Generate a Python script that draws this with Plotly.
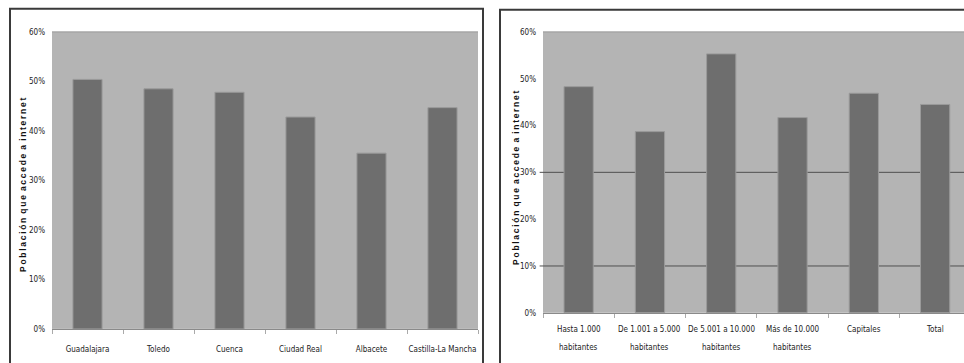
import plotly.graph_objects as go

# Data
provincias = ["Guadalajara", "Toledo", "Cuenca", "Ciudad Real", "Albacete", "Castilla-La Mancha"]
acceso_provincia = [0.504, 0.485, 0.478, 0.428, 0.355, 0.447]

tamanos_linea1 = ["Hasta 1.000", "De 1.001 a 5.000", "De 5.001 a 10.000", "Más de 10.000", "Capitales", "Total"]
tamanos_linea2 = ["habitantes", "habitantes", "habitantes", "habitantes", "", ""]
tamanos = [(a + " " + b).strip() for a, b in zip(tamanos_linea1, tamanos_linea2)]
acceso_tamano = [0.483, 0.387, 0.553, 0.417, 0.469, 0.445]

y_ticks = [0, 0.1, 0.2, 0.3, 0.4, 0.5, 0.6]
y_ticktext = ["0%", "10%", "20%", "30%", "40%", "50%", "60%"]
grid_right = [0.1, 0.3]

TS = "\u2009"
ytitle = (" " + TS).join(TS.join(w) for w in "Población que accede a internet".split(" "))

W, H = 964, 363
def px(x): return x / W
def py(y):
    y = (y - 5.3) / 0.9686
    return 1 - y / H

BG = "#b4b4b4"
BAR = "#6e6e6e"
FONT = "Liberation Sans Narrow, DejaVu Sans Condensed, sans-serif"
TXT = "#222"

fig = go.Figure()
fig.add_trace(go.Bar(x=provincias, y=acceso_provincia, xaxis="x", yaxis="y",
                     marker=dict(color=BAR, line=dict(color="#9a9a9a", width=1)), width=0.41))
fig.add_trace(go.Bar(x=tamanos, y=acceso_tamano, xaxis="x2", yaxis="y2",
                     marker=dict(color=BAR, line=dict(color="#9a9a9a", width=1)), width=0.41))

axis_common_y = dict(range=[0, 0.6], tickvals=y_ticks, ticktext=y_ticktext, showgrid=False,
                     zeroline=False, showline=False, ticks="", ticklabelstandoff=6,
                     tickfont=dict(family=FONT, size=8, color=TXT))
axis_common_x = dict(type="category", showgrid=False, zeroline=False, showline=True,
                     linecolor="#8a8a8a", linewidth=1, ticks="outside", ticklen=4,
                     tickcolor="#aaaaaa", tickson="boundaries", tickangle=0,
                     tickfont=dict(family=FONT, size=8, color=TXT))

fig.update_layout(
    width=W, height=H, margin=dict(l=0, r=0, t=0, b=0), autosize=False,
    paper_bgcolor="white", plot_bgcolor=BG, showlegend=False,
    xaxis=dict(domain=[px(52), px(478)], anchor="y", range=[-0.5, 5.5], ticklabelstandoff=12,
               **axis_common_x),
    yaxis=dict(domain=[py(328), py(33)], anchor="x", **axis_common_y),
    xaxis2=dict(domain=[px(543), 1.0], anchor="y2", range=[-0.5, 5.405], showticklabels=False,
                **axis_common_x),
    yaxis2=dict(domain=[py(312), py(33)], anchor="x2", **axis_common_y),
)

# two-line category labels of the right chart
for cat, l1, l2 in zip(tamanos, tamanos_linea1, tamanos_linea2):
    fig.add_annotation(x=cat, y=py(329), xref="x2", yref="paper", text=l1, showarrow=False,
                       font=dict(family=FONT, size=8, color=TXT), yanchor="middle")
    if l2:
        fig.add_annotation(x=cat, y=py(346), xref="x2", yref="paper", text=l2, showarrow=False,
                           font=dict(family=FONT, size=8, color=TXT), yanchor="middle")

shapes = []
for v in grid_right:
    shapes.append(dict(type="line", xref="x2 domain", yref="y2", x0=-0.008, x1=1, y0=v, y1=v,
                       line=dict(color="#505050", width=1), layer="below"))
# outer frames
shapes.append(dict(type="rect", xref="paper", yref="paper", x0=px(10), x1=px(483), y0=-0.1, y1=py(10),
                   line=dict(color="#3a3a3a", width=2), layer="below"))
shapes.append(dict(type="rect", xref="paper", yref="paper", x0=px(500), x1=1.1, y0=-0.1, y1=py(11),
                   line=dict(color="#3a3a3a", width=2), layer="below"))
# top borders of plot areas
shapes.append(dict(type="line", xref="x domain", yref="y domain", x0=0, x1=1, y0=1, y1=1,
                   line=dict(color="#999999", width=1)))
shapes.append(dict(type="line", xref="x2 domain", yref="y2 domain", x0=0, x1=1, y0=1, y1=1,
                   line=dict(color="#999999", width=1)))
fig.update_layout(shapes=shapes)

title_font = dict(family="Liberation Sans, Arial, sans-serif", size=8.5, color="#111", weight="bold")
fig.add_annotation(text=ytitle, xref="paper", yref="paper", x=px(23), y=py(185), textangle=-90,
                   showarrow=False, font=title_font, xanchor="center", yanchor="middle")
fig.add_annotation(text=ytitle, xref="paper", yref="paper", x=px(516), y=py(178), textangle=-90,
                   showarrow=False, font=title_font, xanchor="center", yanchor="middle")

post = ("document.documentElement.style.margin='0';document.documentElement.style.overflow='hidden';"
        "document.body.style.margin='0';document.body.style.overflow='hidden';"
        "var d=document.getElementById('{plot_id}');d.style.position='fixed';d.style.top='0px';d.style.left='0px';")
fig.write_html("out.html", config={"responsive": False, "displayModeBar": False}, post_script=post)
